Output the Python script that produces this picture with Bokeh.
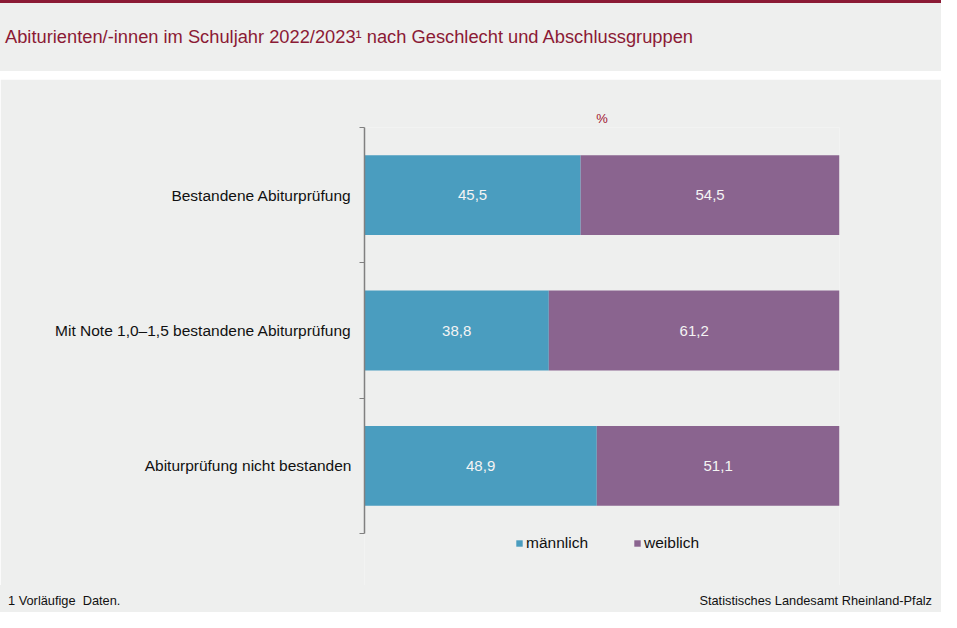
from bokeh.plotting import figure
from bokeh.models import (ColumnDataSource, Range1d, LinearAxis, Div,
                          FixedTicker, Legend, LegendItem, LabelSet)
from bokeh.layouts import column
from bokeh.core.properties import value
from bokeh.embed import file_html
from bokeh.resources import INLINE

# ---- data ----
categories = ["Bestandene Abiturprüfung",
              "Mit Note 1,0–1,5 bestandene Abiturprüfung",
              "Abiturprüfung nicht bestanden"]
maennlich = [45.5, 38.8, 48.9]
weiblich = [54.5, 61.2, 51.1]
series_names = ["männlich", "weiblich"]
title_text = "Abiturienten/-innen im Schuljahr 2022/2023¹ nach Geschlecht und Abschlussgruppen"
unit_text = "%"
footnote = "1 Vorläufige  Daten."
source_text = "Statistisches Landesamt Rheinland-Pfalz"

# ---- styles / layout ----
FONT = "Liberation Sans"
BG = "#EEEFEE"
MAROON = "#8B1A35"
C_M = "#4A9DBF"
C_W = "#8A648F"
W = 941
HEAD_H, MAIN_H, FOOT_H = 79, 506, 27
FL, FR, FT = 364, 102, 48         # borders around the frame (frame reaches the figure bottom)
BA = 406                          # pixel height of the bar area
n = len(categories)
XMAX = 100
YMIN = -(MAIN_H - FT - BA) / BA * n

def fmt(v):
    return f"{v:.1f}".replace(".", ",")

# ---- header ----
header = Div(
    text=(f'<div style="box-sizing:border-box;width:{W}px;height:{HEAD_H}px;'
          f'background:{BG};border-top:3px solid {MAROON};border-bottom:8px solid #ffffff;'
          f'display:flex;align-items:center;padding-left:5px;font-family:\'{FONT}\';'
          f'font-size:18.3px;color:{MAROON};white-space:pre;">{title_text}</div>'),
    width=W, height=HEAD_H, margin=0)

# ---- main chart ----
ypos = [n - i - 0.5 for i in range(n)]   # first category at top
src = ColumnDataSource(dict(
    y=ypos,
    m=maennlich,
    w=weiblich,
    m_pos=[v / 2 for v in maennlich],
    w_pos=[a + b / 2 for a, b in zip(maennlich, weiblich)],
    m_lab=[fmt(v) for v in maennlich],
    w_lab=[fmt(v) for v in weiblich],
))

p = figure(width=W, height=MAIN_H, y_range=Range1d(YMIN, n),
           x_range=Range1d(0, XMAX), output_backend="svg", toolbar_location=None,
           x_axis_location=None, y_axis_location=None, margin=0,
           min_border_left=FL, min_border_right=FR, min_border_top=FT, min_border_bottom=0)
p.outline_line_color = None
p.grid.visible = False
p.background_fill_color = BG
p.border_fill_color = BG

p.title.text = unit_text
p.title.align = "center"
p.title.text_font = FONT
p.title.text_font_size = "13px"
p.title.text_font_style = "normal"
p.title.text_color = "#A01530"
p.title.standoff = 3
p.title.offset = 3

renderers = p.hbar_stack(["m", "w"], y="y", height=0.59, color=[C_M, C_W],
                         line_color=None, source=src)

# tick axis (boundaries between categories)
bticks = list(range(n + 1))
tick_axis = LinearAxis(ticker=FixedTicker(ticks=bticks, minor_ticks=[]), bounds=(0, n),
                       major_label_overrides={t: "" for t in bticks},
                       major_tick_out=5, major_tick_in=0,
                       minor_tick_line_color=None, axis_line_color="#808080",
                       major_tick_line_color="#808080", major_label_standoff=0,
                       axis_line_width=1.5)
p.add_layout(tick_axis, "left")

# category label axis
cat_axis = LinearAxis(ticker=FixedTicker(ticks=ypos, minor_ticks=[]), minor_tick_line_color=None,
                      major_label_overrides={y: c for y, c in zip(ypos, categories)},
                      axis_line_color=None, major_tick_line_color=None,
                      major_label_text_font=FONT, major_label_text_font_size="15.5px",
                      major_label_text_color="#111111", major_label_standoff=2)
p.add_layout(cat_axis, "left")

for col_x, col_t in (("m_pos", "m_lab"), ("w_pos", "w_lab")):
    p.add_layout(LabelSet(x=col_x, y="y", text=col_t, source=src, text_align="center",
                          text_baseline="middle", text_color="#F4F4F4", text_font=value(FONT),
                          text_font_size="15px"))

legend = Legend(items=[LegendItem(label=series_names[i], renderers=[renderers[i]]) for i in range(2)],
                orientation="horizontal", location=(151, 33), margin=0, padding=3,
                spacing=45, label_standoff=3, glyph_width=8, glyph_height=8,
                background_fill_alpha=0, border_line_color=None,
                label_text_font=FONT, label_text_font_size="15.5px", label_text_color="#111111")
p.add_layout(legend, "center")

# ---- footer ----
footer = Div(
    text=(f'<div style="box-sizing:border-box;width:{W}px;height:{FOOT_H}px;background:{BG};'
          f'display:flex;justify-content:space-between;align-items:center;'
          f'padding:6px 9px 0 8px;font-family:\'{FONT}\';font-size:12.8px;color:#111111;'
          f'white-space:pre;"><span>{footnote}</span><span>{source_text}</span></div>'),
    width=W, height=FOOT_H, margin=0)

layout = column(header, p, footer, spacing=0)
open("out.html", "w").write(file_html(layout, INLINE))
